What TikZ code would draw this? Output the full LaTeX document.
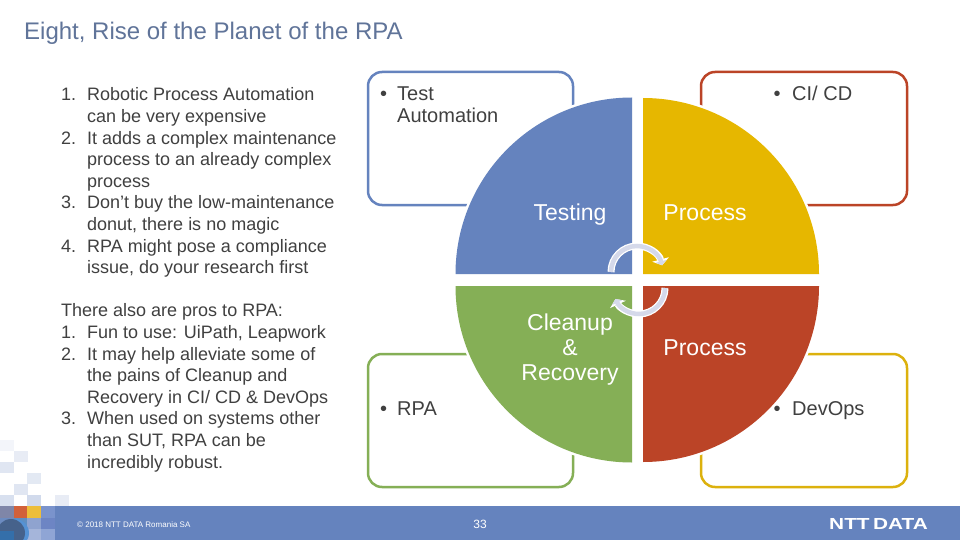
\documentclass[tikz,border=0pt]{standalone}
\usepackage{fontspec}
\usetikzlibrary{arrows.meta}
\setmainfont{Liberation Sans}
\definecolor{nttblue}{HTML}{6583BE}
\definecolor{nttyellow}{HTML}{E6B700}
\definecolor{nttgreen}{HTML}{85AF56}
\definecolor{nttred}{HTML}{BB4427}
\definecolor{nttgrey}{HTML}{404040}
\definecolor{titlegrey}{HTML}{607499}
\definecolor{arrowgrey}{HTML}{D5D9EA}
\tikzset{
  bodytext/.style={inner sep=0pt, anchor=north west, align=left, text=nttgrey, font=\fontsize{18}{21.6}\selectfont},
  boxtext/.style={inner sep=0pt, anchor=base west, align=left, text=nttgrey, font=\fontsize{20}{22}\selectfont},
  quartertext/.style={inner sep=0pt, anchor=base, align=center, text=white, font=\fontsize{23}{25}\selectfont},
  sidebox/.style={line width=2.5pt, rounded corners=14pt},
  quarter/.style={preaction={draw=white, line width=5pt}},
  cyclearrow/.style={draw=white, line width=7pt, -{Triangle[length=6pt,width=17pt]}},
  cycleinner/.style={draw=arrowgrey, line width=4.5pt, -{Triangle[length=4pt,width=11pt]}}
}
\begin{document}
\begin{tikzpicture}[x=1pt,y=-1pt]
\useasboundingbox (0,0) rectangle (960,540);
\fill[white] (0,0) rectangle (960,540);
% mosaic
\foreach \xa/\ya/\c in {0/440/8, 14/451/15, 0/462/20, 27/473/18, 14/484/20, 0/495/25, 27/495/30, 55/495/15}
  \fill[nttblue!\c!white] (\xa,\ya) rectangle +(14,11);
% footer
\fill[nttblue] (0,506) rectangle (960,540);
\foreach \xa/\ya/\xb/\yb/\c in {0/506/14/518/7F86A8, 14/506/27/518/D2613A, 27/506/41/518/EDBE3A, 41/506/55/518/7A93CC,
  0/518/14/540/6C8BC0, 14/518/27/540/5F8FC2, 27/518/41/529/8FA3CF, 27/529/41/540/A5B5DA, 41/518/55/529/6D85C4, 41/529/55/540/8FA5D5}{
  \definecolor{tilecol}{HTML}{\c}
  \fill[tilecol] (\xa,\ya) rectangle (\xb,\yb);
}
\begin{scope}
\clip (0,506) rectangle (60,540);
\fill[cyan!55!blue!70!white] (15,533) circle (14);
\fill[cyan!50!blue!60!black] (11,533) circle (14);
\fill[cyan!55!blue!80!black] (0,531) rectangle (14,540);
\end{scope}
% title
\node[inner sep=0pt, anchor=base west, text=titlegrey, font=\fontsize{24}{28}\selectfont] (title) at (24,39.5) {Eight, Rise of the Planet of the RPA};
% left text
\node[bodytext] (prolist) at (61,85.5) {%
\begin{tabular}{@{}p{26pt}@{}l@{}}
1. & Robotic Process Automation\\
   & can be very expensive\\
2. & It adds a complex maintenance\\
   & process to an already complex\\
   & process\\
3. & Don’t buy the low-maintenance\\
   & donut, there is no magic\\
4. & RPA might pose a compliance\\
   & issue, do your research first
\end{tabular}};
\node[bodytext] (conlist) at (61,301.5) {%
\begin{tabular}{@{}p{26pt}@{}l@{}}
\multicolumn{2}{@{}l}{There also are pros to RPA:}\\
1. & Fun to use: UiPath, Leapwork\\
2. & It may help alleviate some of\\
   & the pains of Cleanup and\\
   & Recovery in CI/ CD \& DevOps\\
3. & When used on systems other\\
   & than SUT, RPA can be\\
   & incredibly robust.
\end{tabular}};
% side boxes
\draw[sidebox, draw=nttblue] (368,72) rectangle (573,205);
\draw[sidebox, draw=nttred] (701,72) rectangle (907,205);
\draw[sidebox, draw=nttgreen] (368,354) rectangle (573,487);
\draw[sidebox, draw=nttyellow!90!gray] (701,354) rectangle (907,487);
% quarters
\fill[quarter, nttblue] (632,274) -- (455.5,274) arc (180:270:176.5) -- cycle;
\fill[quarter, nttyellow] (643,274) -- (643,98) arc (270:360:176) -- cycle;
\fill[quarter, nttgreen] (632,286) -- (632,462.5) arc (90:180:176.5) -- cycle;
\fill[quarter, nttred] (643,286) -- (819,286) arc (0:90:176) -- cycle;
% box labels
\node[boxtext] (bulA) at (380,101) {•};
\node[boxtext] (testauto) at (397,123) {Test\\Automation};
\node[boxtext] (bulB) at (773.5,101) {•};
\node[boxtext] (cicd) at (792,101) {CI/ CD};
\node[boxtext] (bulC) at (380,415) {•};
\node[boxtext] (rpa) at (397,415) {RPA};
\node[boxtext] (bulD) at (773.5,415) {•};
\node[boxtext] (devops) at (792,415) {DevOps};
% quarter labels
\node[quartertext] (testing) at (570,220) {Testing};
\node[quartertext] (procup) at (705,220) {Process};
\node[quartertext] (cleanup) at (570,380) {Cleanup\\\&\\Recovery};
\node[quartertext] (procdown) at (705,355) {Process};
% cycle arrows
\draw[cyclearrow] (611,272) arc (180:345:26);
\draw[cyclearrow] (665,288) arc (0:155:26);
\draw[cycleinner] (611,272) arc (180:345:26);
\draw[cycleinner] (665,288) arc (0:155:26);
% footer text
\node[inner sep=0pt, anchor=base west, text=white, font=\fontsize{8}{9}\selectfont] (copyright) at (77,527) {© 2018 NTT DATA Romania SA};
\node[inner sep=0pt, anchor=base, text=white, font=\fontsize{12}{14}\selectfont] (pagenum) at (480,528) {33};
\node[inner sep=0pt, anchor=base east, text=white, font=\bfseries\fontsize{16}{18}\selectfont] (logo) at (928,529) {\scalebox{1.3}[1]{NTT\,DATA}};
\end{tikzpicture}
\end{document}
